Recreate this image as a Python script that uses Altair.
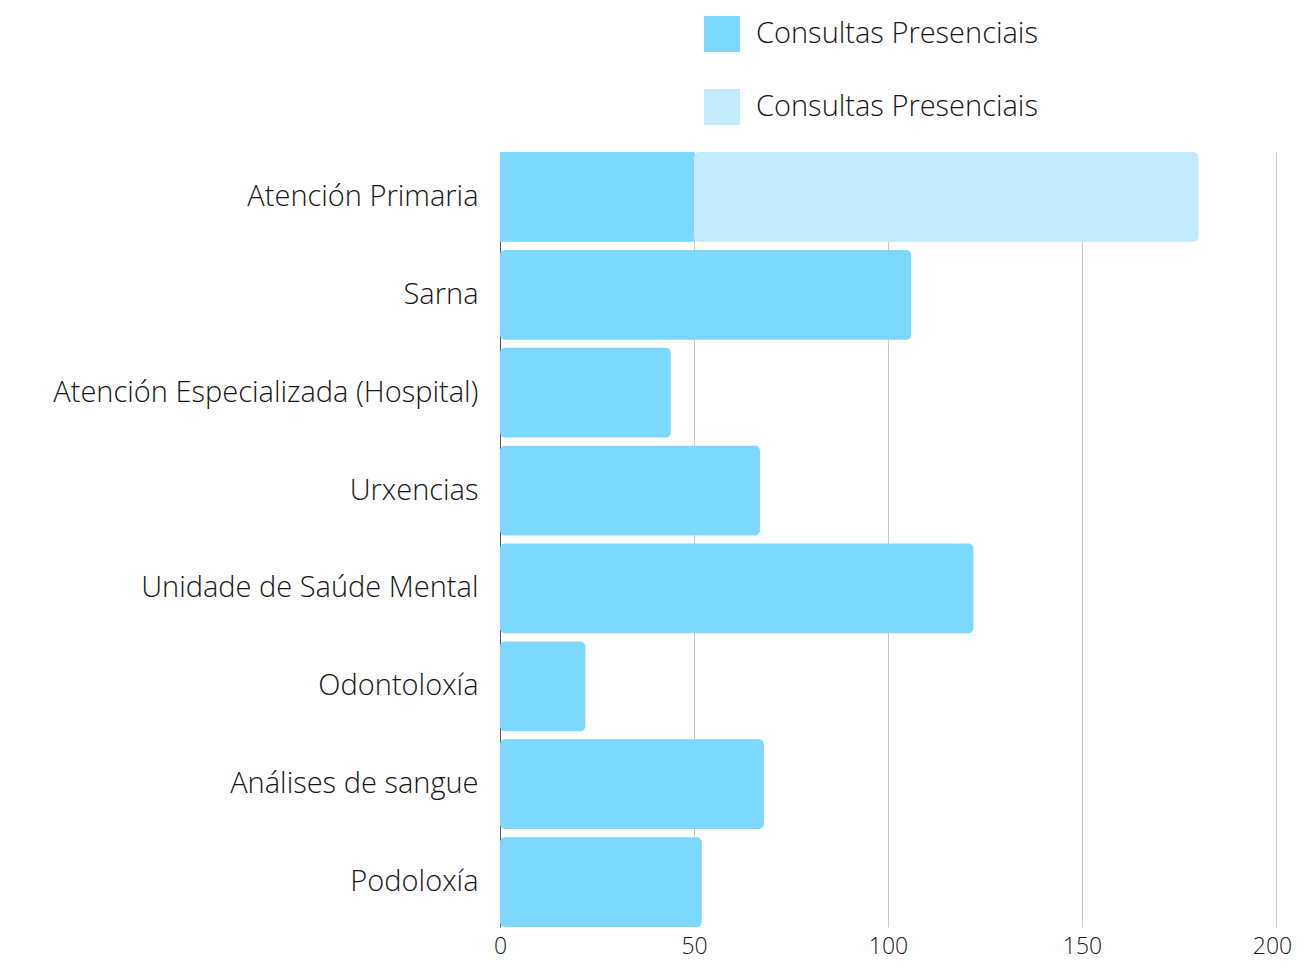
import altair as alt
import pandas as pd

categories = [
    "Atención Primaria",
    "Sarna",
    "Atención Especializada (Hospital)",
    "Urxencias",
    "Unidade de Saúde Mental",
    "Odontoloxía",
    "Análises de sangue",
    "Podoloxía",
]
presenciais = [50, 106, 44, 67, 122, 22, 68, 52]
outras = [130, 0, 0, 0, 0, 0, 0, 0]
series_keys = ["s1", "s2"]
series_labels = ["Consultas Presenciais", "Consultas Presenciais"]
colors = ["#7dd8ff", "#c2ecfd"]
x_ticks = [0, 50, 100, 150, 200]

series_values = [presenciais, outras]
rows = []
for i, cat in enumerate(categories):
    start = 0
    vals = [s[i] for s in series_values]
    for k, v in enumerate(vals):
        if v > 0:
            last = all(w == 0 for w in vals[k + 1:])
            rows.append({"cat": cat, "serie": series_keys[k], "start": start,
                         "end": start + v, "last": last})
            start += v
df = pd.DataFrame(rows)

FONT = "Open Sans"
W = 300
TXT = "#161616"
label_expr = "{" + ",".join(f"'{k}': '{l}'" for k, l in zip(series_keys, series_labels)) + "}[datum.value]"

base = alt.Chart(df).encode(
    y=alt.Y("cat:N", sort=categories, title=None,
            scale=alt.Scale(paddingInner=0.082, paddingOuter=0),
            axis=alt.Axis(ticks=False, labelPadding=22, labelFontSize=29, labelFont=FONT,
                          labelFontWeight=W,
                          labelColor=TXT, domain=True, domainColor="#555555",
                          domainWidth=1, labelLimit=600)),
    x=alt.X("start:Q", title=None, scale=alt.Scale(domain=[0, 200], nice=False),
            axis=alt.Axis(values=x_ticks, ticks=False, domain=False, grid=True,
                          gridColor="#c8c8c8", gridWidth=1, labelFontSize=23, labelFont=FONT,
                          labelFontWeight=W,
                          labelOffset={"condition": {"test": "datum.value == 200", "value": -4},
                                       "value": 0},
                          labelColor=TXT, labelPadding=8, labelFlush=False)),
    x2="end:Q",
    color=alt.Color("serie:N", scale=alt.Scale(domain=series_keys, range=colors),
                    legend=alt.Legend(title=None, orient="none", legendX=204, legendY=-136,
                                      direction="vertical", symbolType="square",
                                      symbolSize=1296, symbolStrokeWidth=0,
                                      labelFontSize=29, labelFont=FONT, labelFontWeight=W,
                                      labelColor=TXT,
                                      labelOffset=16, rowPadding=37, padding=0,
                                      labelExpr=label_expr, labelLimit=600)),
)

last_layer = base.mark_bar(cornerRadiusEnd=5).transform_filter("datum.last")
inner_layer = base.mark_bar().transform_filter("!datum.last")

chart = alt.layer(inner_layer, last_layer).properties(
    width=776, height=775,
    autosize=alt.AutoSizeParams(type="none"),
    padding={"left": 492, "top": 144, "right": 19, "bottom": 33},
).configure(font=FONT).configure_view(stroke=None)

chart.save("out.html", embed_options={"renderer": "svg", "actions": False})
